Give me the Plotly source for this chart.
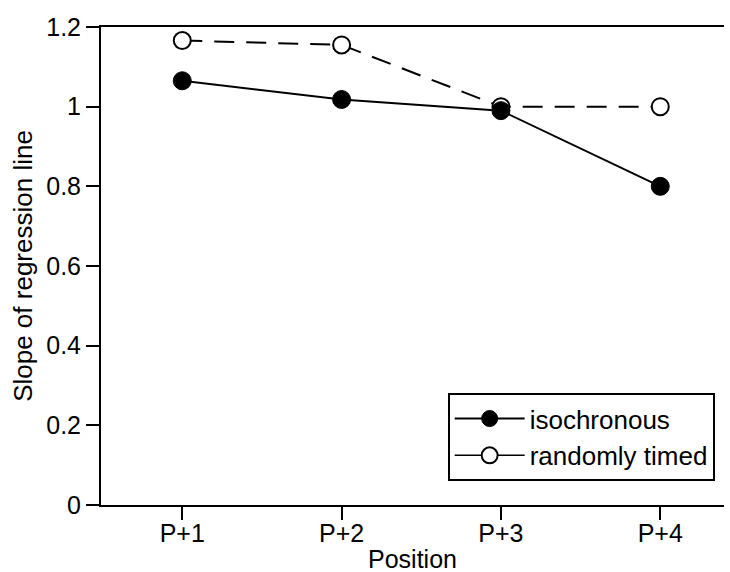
import plotly.graph_objects as go

positions = ["P+1", "P+2", "P+3", "P+4"]
isochronous = [1.065, 1.018, 0.99, 0.80]
randomly_timed = [1.166, 1.155, 1.0, 1.0]
y_ticks = [0, 0.2, 0.4, 0.6, 0.8, 1, 1.2]
y_ticklabels = ["0", "0.2", "0.4", "0.6", "0.8", "1", "1.2"]

FONT = "Liberation Sans, Arial, Helvetica, sans-serif"

fig = go.Figure()
fig.add_trace(go.Scatter(
    x=positions, y=randomly_timed, name="randomly timed", mode="lines+markers",
    showlegend=False, legendgroup="rand",
    line=dict(color="black", width=2, dash="20px,12px"),
    marker=dict(symbol="circle", size=17, color="white", line=dict(color="black", width=2)),
))
fig.add_trace(go.Scatter(
    x=positions, y=isochronous, name="isochronous", mode="lines+markers", legendrank=1,
    line=dict(color="black", width=2),
    marker=dict(symbol="circle", size=18, color="black", line=dict(color="black", width=1)),
))
# legend entry for the randomly timed series (solid key line as in the original)
fig.add_trace(go.Scatter(
    x=[None], y=[None], name="randomly timed", mode="lines+markers", legendgroup="rand",
    legendrank=2,
    line=dict(color="black", width=1.5),
    marker=dict(symbol="circle", size=17, color="white", line=dict(color="black", width=2)),
))

fig.add_annotation(
    text="Position", xref="paper", yref="paper", x=0.5, y=-0.146,
    xanchor="center", yanchor="bottom", showarrow=False,
    font=dict(size=25, family=FONT, color="black"),
)

fig.update_layout(
    width=730, height=572,
    margin=dict(l=101, r=6, t=27, b=67),
    paper_bgcolor="white", plot_bgcolor="white",
    font=dict(family=FONT, size=25, color="black"),
    showlegend=True,
    legend=dict(
        x=0.985, y=0.234, xanchor="right", yanchor="top",
        bordercolor="black", borderwidth=2, bgcolor="white",
        font=dict(size=26), itemwidth=70, tracegroupgap=0, traceorder="normal",
    ),
    xaxis=dict(
        type="category", range=[-0.51, 3.4], automargin=False,
        showline=True, linecolor="black", linewidth=2, mirror=True,
        ticks="outside", ticklen=13, tickwidth=1.5, tickcolor="black",
        ticklabelstandoff=-8,
        showgrid=False, zeroline=False, tickfont=dict(size=25),
    ),
    yaxis=dict(
        range=[0, 1.2], tickvals=y_ticks, ticktext=y_ticklabels, automargin=False,
        showline=True, linecolor="black", linewidth=2,
        ticks="outside", ticklen=13, tickwidth=1.5, tickcolor="black",
        showgrid=False, zeroline=False, tickfont=dict(size=25),
        title=dict(text="Slope of regression line", standoff=6, font=dict(size=26)),
    ),
)

fig.write_html(
    "out.html",
    config={"displayModeBar": False},
    post_script="document.body.style.margin='0';document.body.style.overflow='hidden';",
)
